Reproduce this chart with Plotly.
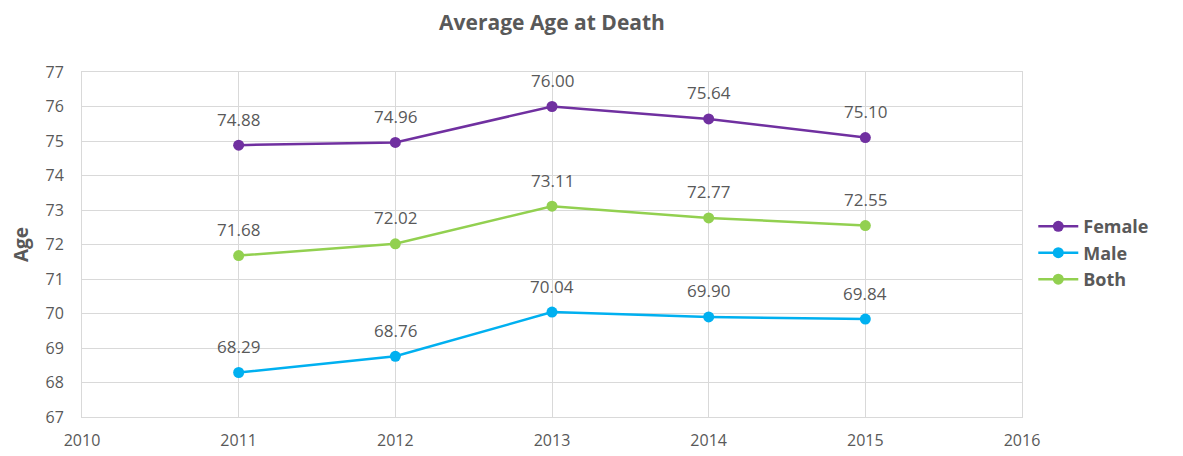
import plotly.graph_objects as go

years = [2011, 2012, 2013, 2014, 2015]
female = [74.88, 74.96, 76.00, 75.64, 75.10]
male = [68.29, 68.76, 70.04, 69.90, 69.84]
both = [71.68, 72.02, 73.11, 72.77, 72.55]

series = [("Female", female, "#7030A0"), ("Male", male, "#00B0F0"), ("Both", both, "#92D050")]
gray = "#595959"

fig = go.Figure()
annotations = []
for name, vals, col in series:
    fig.add_trace(go.Scatter(
        x=years, y=vals, name=name, mode="lines+markers",
        line=dict(color=col, width=2.5), marker=dict(color=col, size=11),
        cliponaxis=False,
    ))
    for xv, yv in zip(years, vals):
        annotations.append(dict(x=xv, y=yv, text=f"{yv:.2f}", showarrow=False,
                                yshift=26, font=dict(size=17, color=gray, family="Open Sans")))

grid = "#D9D9D9"
fig.update_layout(
    width=1175, height=448,
    margin=dict(l=74, r=161, t=64, b=39),
    paper_bgcolor="white", plot_bgcolor="white",
    font=dict(family="Open Sans", color=gray),
    annotations=annotations,
    title=dict(text="<b>Average Age at Death</b>", x=0.5, xanchor="center", xref="paper",
               y=0.968, yanchor="middle", font=dict(size=21, color=gray)),
    xaxis=dict(range=[2010, 2016], dtick=1, tick0=2010, showgrid=True, gridcolor=grid,
               showline=True, linecolor=grid, mirror=True, zeroline=False, automargin=False,
               ticks="", ticklabelstandoff=9, tickfont=dict(size=16, color=gray)),
    yaxis=dict(range=[67, 77], dtick=1, showgrid=True, gridcolor=grid,
               showline=True, linecolor=grid, mirror=True, zeroline=False, automargin=False,
               ticks="", ticklabelstandoff=14, tickfont=dict(size=16, color=gray),
               title=dict(text="<b>Age</b>", font=dict(size=19, color=gray), standoff=19)),
    legend=dict(x=1.012, xanchor="left", y=0.475, yanchor="middle",
                font=dict(size=18, color=gray, family="Open Sans", weight="bold"),
                itemwidth=40, tracegroupgap=0),
)
fig.write_html("out.html")
